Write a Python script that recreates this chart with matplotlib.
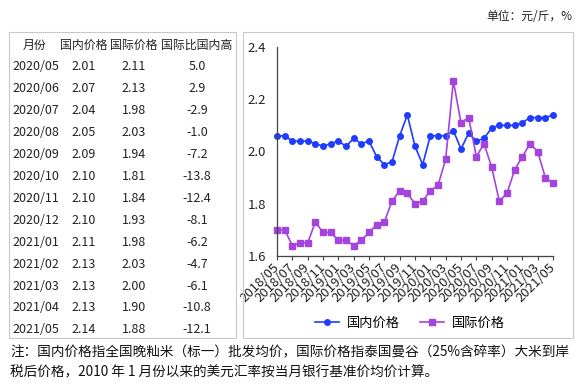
import matplotlib
matplotlib.use('Agg')
import matplotlib.pyplot as plt
from matplotlib.patches import Rectangle
import numpy as np

plt.rcParams['font.family'] = ['Noto Sans CJK SC', 'DejaVu Sans']

# monthly series 2018/05 .. 2021/05
months = ['2018/05', '2018/06', '2018/07', '2018/08', '2018/09', '2018/10', '2018/11', '2018/12',
          '2019/01', '2019/02', '2019/03', '2019/04', '2019/05', '2019/06', '2019/07', '2019/08',
          '2019/09', '2019/10', '2019/11', '2019/12', '2020/01', '2020/02', '2020/03', '2020/04',
          '2020/05', '2020/06', '2020/07', '2020/08', '2020/09', '2020/10', '2020/11', '2020/12',
          '2021/01', '2021/02', '2021/03', '2021/04', '2021/05']
domestic = [2.06, 2.06, 2.04, 2.04, 2.04, 2.03, 2.02, 2.03, 2.04, 2.02, 2.05, 2.03, 2.04,
            1.98, 1.95, 1.96, 2.06, 2.14, 2.02, 1.95, 2.06, 2.06, 2.06, 2.08,
            2.01, 2.07, 2.04, 2.05, 2.09, 2.10, 2.10, 2.10, 2.11, 2.13, 2.13, 2.13, 2.14]
international = [1.70, 1.70, 1.64, 1.65, 1.65, 1.73, 1.69, 1.69, 1.66, 1.66, 1.64, 1.66, 1.69,
                 1.72, 1.73, 1.81, 1.85, 1.84, 1.80, 1.81, 1.85, 1.87, 1.97, 2.27,
                 2.11, 2.13, 1.98, 2.03, 1.94, 1.81, 1.84, 1.93, 1.98, 2.03, 2.00, 1.90, 1.88]

# table on the left
table_header = ['月份', '国内价格', '国际价格', '国际比国内高']
table_months = ['2020/05', '2020/06', '2020/07', '2020/08', '2020/09', '2020/10', '2020/11',
                '2020/12', '2021/01', '2021/02', '2021/03', '2021/04', '2021/05']
table_dom = ['2.01', '2.07', '2.04', '2.05', '2.09', '2.10', '2.10', '2.10', '2.11', '2.13',
             '2.13', '2.13', '2.14']
table_intl = ['2.11', '2.13', '1.98', '2.03', '1.94', '1.81', '1.84', '1.93', '1.98', '2.03',
              '2.00', '1.90', '1.88']
table_diff = ['5.0', '2.9', '-2.9', '-1.0', '-7.2', '-13.8', '-12.4', '-8.1', '-6.2', '-4.7',
              '-6.1', '-10.8', '-12.1']

W, H = 582, 385
fig = plt.figure(figsize=(W / 100, H / 100), dpi=100)


def fx(px):
    return px / W


def fy(py):
    return 1 - py / H


# boxes around the table and the chart
for x0, x1 in [(9, 236), (243, 573)]:
    fig.patches.append(Rectangle((fx(x0), fy(338)), fx(x1 - x0), (338 - 32) / H,
                                 transform=fig.transFigure, fill=False,
                                 edgecolor='#c8c8c8', linewidth=0.8))

txt_color = '#222222'
tsize = 9
col_x = [35, 84, 134, 197]
for i in range(4):
    fig.text(fx(col_x[i]), fy(45), table_header[i], ha='center', va='center', fontsize=8.6, color=txt_color)

for r in range(len(table_months)):
    y = fy(67 + 21.9 * r)
    fig.text(fx(12), y, table_months[r], ha='left', va='center', fontsize=tsize, color=txt_color)
    fig.text(fx(col_x[1]), y, table_dom[r], ha='center', va='center', fontsize=tsize, color=txt_color)
    fig.text(fx(col_x[2]), y, table_intl[r], ha='center', va='center', fontsize=tsize, color=txt_color)
    fig.text(fx(col_x[3]), y, table_diff[r], ha='center', va='center', fontsize=tsize, color=txt_color)

# line chart
ax = fig.add_axes([fx(277), fy(256), fx(553 - 277), (256 - 47) / H])
x = np.arange(len(months))
blue = '#1f3cff'
purple = '#a444dc'
ax.plot(x, domestic, color=blue, marker='o', markersize=4, linewidth=1.2, label='国内价格', clip_on=False)
ax.plot(x, international, color=purple, marker='s', markersize=4, linewidth=1.2, label='国际价格', clip_on=False)

ax.set_xlim(0, len(months) - 1)
ax.set_ylim(1.6, 2.4)
ax.set_yticks([1.6, 1.8, 2.0, 2.2, 2.4])
ax.set_yticklabels(['1.6', '1.8', '2.0', '2.2', '2.4'])
ax.set_xticks(x[::2])
ax.set_xticklabels(months[::2], rotation=45, ha='right', va='center', rotation_mode='anchor')
ax.tick_params(axis='y', length=0, pad=8, labelsize=9.5, colors=txt_color)
ax.tick_params(axis='x', length=3, width=0.8, pad=4, labelsize=9.5, colors=txt_color)
ax.tick_params(axis='x', color='#444444')
for s in ['top', 'right']:
    ax.spines[s].set_visible(False)
for s in ['left', 'bottom']:
    ax.spines[s].set_color('#444444')
    ax.spines[s].set_linewidth(0.9)

ax.legend(loc='center', bbox_to_anchor=(fx(410), fy(323)), bbox_transform=fig.transFigure,
          ncol=2, frameon=False, fontsize=9.5, handlelength=1.8, columnspacing=1.5, handletextpad=0.6)

# unit and note
fig.text(fx(572), fy(17), '单位：元/斤，%', ha='right', va='center', fontsize=8.5, color=txt_color)
fig.text(fx(10), fy(352), '注：国内价格指全国晚籼米（标一）批发均价，国际价格指泰国曼谷（25%含碎率）大米到岸',
         ha='left', va='center', fontsize=9.8, color='#111111')
fig.text(fx(10), fy(372), '税后价格，2010 年 1 月份以来的美元汇率按当月银行基准价均价计算。',
         ha='left', va='center', fontsize=9.8, color='#111111')

fig.savefig('out.png', dpi=100)
